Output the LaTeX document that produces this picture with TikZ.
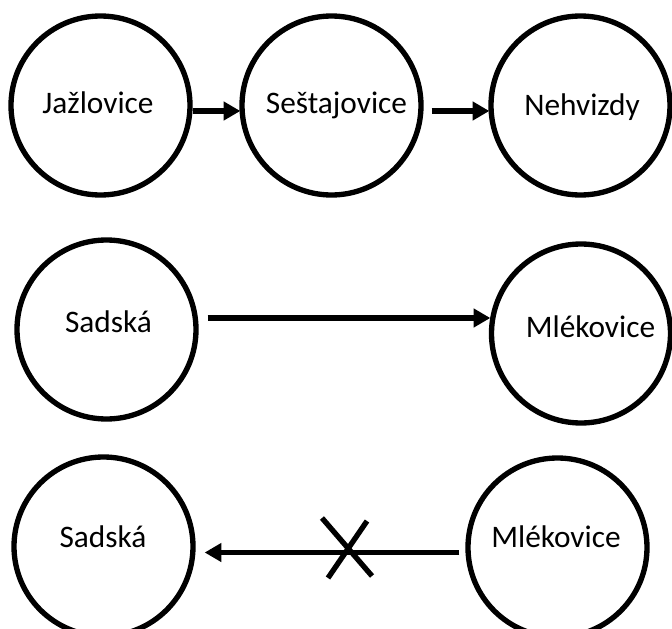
\documentclass[tikz,border=0pt]{standalone}
\usepackage{fontspec}
\setmainfont{Carlito}
\usetikzlibrary{arrows.meta,calc}
\begin{document}
\begin{tikzpicture}[x=0.75pt,y=-0.75pt,
  town/.style={circle,draw=black,line width=4pt,minimum size=134.25pt,inner sep=0pt},
  lbl/.style={anchor=base,inner sep=0pt,font=\fontsize{23.5pt}{28pt}\selectfont},
  conn/.style={line width=4.1pt,-{Triangle[length=12.5pt,width=13.5pt]}},
  crossline/.style={line width=4pt}]
\useasboundingbox (0,0) rectangle (672,629);
% circles
\node[town] (A) at (100.5,105.5) {};
\node[town] (B) at (331.5,105.5) {};
\node[town] (C) at (580.5,105.5) {};
\node[town] (D) at (106.5,329.5) {};
\node[town] (E) at (581,333.5) {};
\node[town] (F) at (103.5,546.5) {};
\node[town] (G) at (557.5,547.5) {};
% labels
\node[lbl] (tA) at (98,113) {Jažlovice};
\node[lbl] (tB) at (336.5,113) {Seštajovice};
\node[lbl] (tC) at (582,115) {Nehvizdy};
\node[lbl] (tD) at (108.5,332) {Sadská};
\node[lbl] (tE) at (590.5,337) {Mlékovice};
\node[lbl] (tF) at (103,547) {Sadská};
\node[lbl] (tG) at (556,547) {Mlékovice};
% connectors
\draw[conn] ($(A.east)+(0,5.5)$) -- ($(B.west)+(1,5.5)$);
\draw[conn] ($(B.east)+(8,5.5)$) -- ($(C.west)+(1,5.5)$);
\draw[conn] ($(D.east)+(9,-11.5)$) -- ($(E.west)+(1.5,-15.5)$);
\draw[conn] ($(G.west)+(-6,5)$) -- ($(F.east)+(9,6)$);
% cross mark
\draw[crossline] (322,518) -- (372,576);
\draw[crossline] (367,521) -- (328,578);
\end{tikzpicture}
\end{document}
